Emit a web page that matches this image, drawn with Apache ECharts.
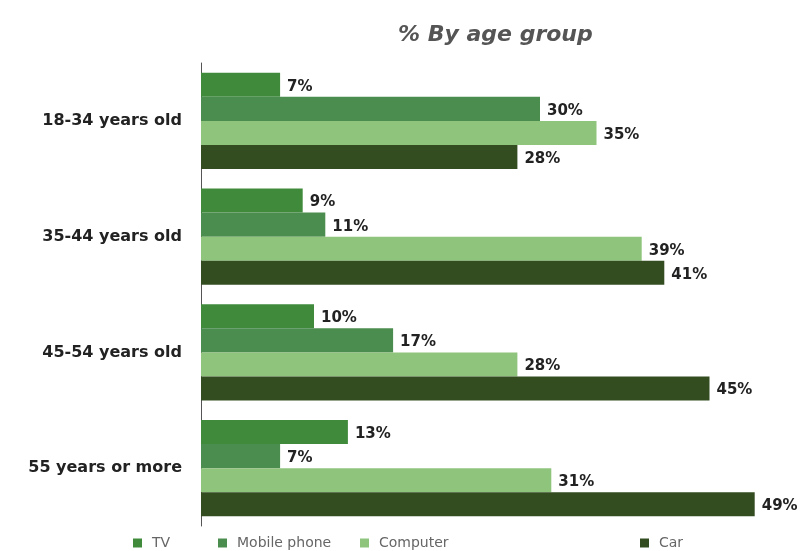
<!DOCTYPE html>
<html><head><meta charset="utf-8">
<script src="https://cdn.jsdelivr.net/npm/echarts@6/dist/echarts.min.js"></script>
<style>html,body{margin:0;padding:0;background:#fff}#c{width:804px;height:551px}</style>
</head><body><div id="c"></div>
<script>
const categories = ['18-34 years old','35-44 years old','45-54 years old','55 years or more'];
const seriesNames = ['TV','Mobile phone','Computer','Car'];
const tv = [7, 9, 10, 13];
const mobile = [30, 11, 17, 7];
const computer = [35, 39, 28, 31];
const car = [28, 41, 45, 49];
const legendLabels = ['TV','Mobile phone','Computer','Car'];

const colors = ['#3f8b3b','#4b8c4f','#8fc47d','#334c20'];
const values = [tv, mobile, computer, car];
const font = 'DejaVu Sans, Arial, sans-serif';

const chart = echarts.init(document.getElementById('c'));
const legendLefts = [128, 213, 355, 635];
chart.setOption({
  animation: false,
  title: {
    text: '% By age group', left: 393, top: 19,
    textStyle: {fontFamily: font, fontSize: 22, fontStyle: 'italic', fontWeight: 'bold', color: '#555'}
  },
  legend: seriesNames.map((n, i) => ({
    data: [n], left: legendLefts[i], top: 531, itemWidth: 9, itemHeight: 9, icon: 'rect',
    formatter: () => legendLabels[i],
    textStyle: {fontFamily: font, fontSize: 14, color: '#666', padding: [0,0,0,5]}
  })),
  grid: {left: 201, right: 38, top: 63, bottom: 25, containLabel: false},
  xAxis: {type: 'value', min: 0, max: 50, show: false},
  yAxis: {
    type: 'category', data: categories, inverse: true,
    axisLine: {show: true, lineStyle: {color: '#555', width: 1}},
    axisTick: {show: false},
    axisLabel: {fontFamily: font, fontSize: 16, fontWeight: 'bold', color: '#222', margin: 19}
  },
  series: seriesNames.map((n, i) => ({
    name: n, type: 'bar', data: values[i],
    barGap: '0%', barCategoryGap: '17%',
    itemStyle: {color: colors[i]},
    label: {show: true, position: 'right', distance: 7, offset: [0, 2], formatter: '{c}%',
      fontFamily: font, fontSize: 15, fontWeight: 'bold', color: '#222'}
  }))
});
</script></body></html>
